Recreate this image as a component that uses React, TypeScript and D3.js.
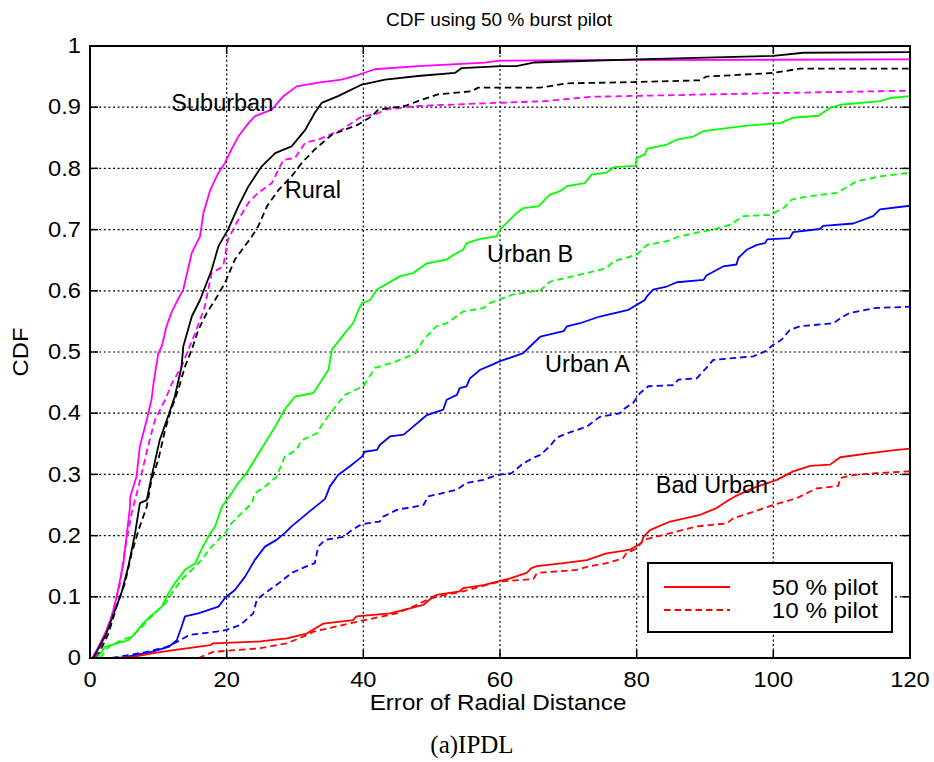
import React from "react";
import * as d3 from "d3";

type P = [number, number];

const xTicks = [0, 20, 40, 60, 80, 100, 120];
const yTicks = [0, 0.1, 0.2, 0.3, 0.4, 0.5, 0.6, 0.7, 0.8, 0.9, 1];
const yTickLabels = ["0", "0.1", "0.2", "0.3", "0.4", "0.5", "0.6", "0.7", "0.8", "0.9", "1"];

const suburban50: P[] = [[0.3,0],[1.0,0.013],[2.2,0.04],[3.2,0.068],[3.9,0.1],[4.9,0.155],[5.85,0.247],[5.9,0.264],[6.8,0.296],[7.3,0.346],[8.3,0.389],[9.0,0.422],[9.3,0.449],[10.0,0.498],[10.5,0.509],[11.2,0.542],[11.9,0.564],[12.6,0.58],[13.65,0.602],[14.9,0.662],[16.1,0.689],[16.6,0.727],[17.6,0.765],[18.8,0.793],[19.75,0.809],[20.7,0.831],[21.7,0.852],[23.2,0.874],[24.1,0.885],[26.6,0.896],[28.3,0.918],[30.25,0.934],[33.4,0.94],[36.8,0.945],[39.3,0.953],[41.7,0.962],[48.0,0.967],[57.8,0.973],[60,0.976],[70,0.977],[120,0.978]];
const suburban10: P[] = [[0.7,0],[2.2,0.035],[3.4,0.078],[4.4,0.122],[5.1,0.177],[6.1,0.237],[7.1,0.28],[7.8,0.313],[8.5,0.346],[9.5,0.389],[11.0,0.422],[12.0,0.449],[13.4,0.476],[14.4,0.504],[15.4,0.531],[16.8,0.574],[17.8,0.629],[19.5,0.64],[20.2,0.684],[21.7,0.716],[23.2,0.744],[24.6,0.76],[26.6,0.776],[28.3,0.814],[30,0.817],[31.5,0.842],[33.4,0.847],[36.8,0.863],[39.8,0.885],[41.7,0.888],[43.2,0.896],[48.0,0.902],[57,0.906],[66.8,0.91],[73.2,0.917],[100,0.923],[120,0.927]];
const rural50: P[] = [[0.5,0],[2.4,0.04],[3.66,0.078],[4.6,0.106],[5.6,0.149],[6.6,0.204],[7.3,0.253],[8.3,0.258],[9.0,0.296],[10.2,0.356],[11.5,0.397],[12.4,0.427],[13.4,0.476],[13.65,0.509],[14.9,0.558],[16.1,0.585],[17.8,0.634],[18.8,0.673],[20.2,0.7],[21.7,0.738],[23.2,0.771],[25.1,0.803],[27.1,0.825],[29.5,0.836],[31.5,0.863],[32.9,0.891],[33.9,0.907],[36.3,0.918],[39.8,0.937],[43.2,0.945],[48.0,0.951],[53.4,0.956],[54.4,0.964],[60.2,0.967],[62.4,0.967],[64.9,0.973],[80,0.978],[100,0.984],[104.4,0.989],[120,0.99]];
const rural10: P[] = [[1.0,0],[2.7,0.04],[3.9,0.084],[5.1,0.122],[6.1,0.171],[7.1,0.209],[8.3,0.247],[9.0,0.291],[10.0,0.324],[11.0,0.373],[11.7,0.4],[12.9,0.438],[13.9,0.476],[14.9,0.504],[15.85,0.536],[17.1,0.564],[18.3,0.585],[19.75,0.613],[21.2,0.651],[23.7,0.689],[24.6,0.705],[25.9,0.738],[27.6,0.765],[29.5,0.787],[31,0.809],[32.9,0.831],[35.4,0.855],[39.3,0.872],[41.2,0.885],[42.2,0.896],[46.1,0.902],[48,0.91],[50.9,0.921],[55.9,0.926],[56.8,0.932],[65.9,0.932],[69.8,0.939],[79.5,0.941],[89.3,0.944],[90.2,0.95],[100,0.956],[103.9,0.963],[120,0.963]];
const urbanB50: P[] = [[1.0,0],[2.2,0.018],[5.6,0.029],[6.6,0.04],[7.8,0.057],[9.0,0.07],[10.5,0.084],[11.5,0.106],[12.4,0.122],[13.9,0.144],[15.4,0.155],[16.3,0.177],[17.6,0.204],[18.3,0.215],[19.3,0.247],[20.7,0.269],[21.7,0.286],[22.9,0.302],[24.1,0.324],[25.6,0.351],[27.1,0.378],[28.5,0.406],[30,0.427],[32.7,0.433],[34.9,0.471],[35.4,0.504],[37.1,0.528],[38.5,0.547],[39.3,0.569],[39.8,0.58],[41,0.585],[42,0.602],[45.4,0.624],[47.3,0.629],[49.3,0.645],[52.2,0.651],[53.2,0.659],[54.6,0.667],[55.1,0.678],[57.1,0.685],[59.5,0.689],[60,0.7],[62.4,0.727],[63.4,0.735],[65.6,0.738],[67.3,0.757],[68.8,0.763],[69.8,0.771],[72.4,0.776],[73.4,0.79],[75.6,0.793],[76.6,0.802],[79.8,0.804],[80,0.817],[81.2,0.823],[81.5,0.832],[84.4,0.839],[85.9,0.847],[88.3,0.852],[89.8,0.861],[96.1,0.87],[101,0.874],[102.9,0.883],[106.6,0.886],[108.3,0.899],[109.8,0.904],[115.6,0.91],[117.1,0.915],[120,0.918]];
const urbanB10: P[] = [[1.5,0],[2.7,0.018],[4.6,0.029],[6.1,0.035],[7.6,0.051],[9.0,0.068],[11.0,0.089],[12.0,0.106],[13.4,0.128],[14.9,0.144],[16.3,0.16],[17.8,0.182],[19.75,0.204],[20.7,0.22],[22.2,0.237],[23.7,0.253],[24.1,0.269],[25.6,0.28],[27.3,0.296],[28.5,0.329],[30.2,0.34],[31,0.356],[33.2,0.367],[34.1,0.384],[35.6,0.406],[37.3,0.43],[40,0.444],[41.7,0.474],[44.9,0.485],[47.6,0.498],[48.8,0.52],[50.7,0.542],[52.2,0.547],[54.6,0.566],[57.6,0.572],[58.5,0.58],[61.9,0.594],[65.9,0.601],[67.3,0.615],[71.2,0.625],[75.6,0.637],[76.6,0.648],[80,0.659],[81.5,0.675],[84.4,0.681],[86.3,0.689],[88.8,0.695],[91.2,0.7],[93.7,0.708],[95.6,0.722],[99.5,0.724],[101.5,0.735],[102.7,0.749],[104.9,0.754],[109.3,0.76],[112.2,0.779],[115.6,0.787],[120,0.793]];
const urbanA50: P[] = [[4.6,0],[9.0,0.01],[11.5,0.018],[12.7,0.029],[13.4,0.051],[13.9,0.068],[15.85,0.073],[18.8,0.084],[19.75,0.098],[21.2,0.111],[22.7,0.133],[24.1,0.16],[25.6,0.182],[27.3,0.193],[28.5,0.204],[29.5,0.215],[32.4,0.242],[34.4,0.26],[35.1,0.28],[36.3,0.299],[38,0.313],[39.8,0.329],[40.2,0.337],[42,0.34],[42.4,0.348],[43.9,0.362],[45.9,0.365],[47.3,0.378],[49.3,0.397],[51.7,0.406],[52.2,0.422],[53.7,0.43],[54.1,0.441],[55.1,0.444],[55.6,0.457],[57.1,0.471],[58.8,0.479],[60,0.485],[63.4,0.498],[64.4,0.509],[65.9,0.525],[69.3,0.534],[69.8,0.542],[71.7,0.547],[74.6,0.558],[78.8,0.569],[80,0.577],[81.2,0.585],[81.5,0.591],[82.4,0.602],[84.4,0.607],[85.9,0.614],[89.8,0.618],[90.2,0.625],[91.7,0.634],[92.7,0.64],[94.6,0.643],[94.9,0.654],[96.1,0.667],[97.6,0.675],[98.8,0.678],[99.1,0.684],[102.4,0.686],[102.9,0.696],[106.8,0.701],[107.3,0.706],[111.7,0.71],[114.6,0.722],[115.6,0.733],[120,0.739]];
const urbanA10: P[] = [[3.2,0],[8.3,0.01],[11.2,0.018],[13.2,0.029],[14.6,0.038],[18.5,0.043],[20,0.046],[22,0.054],[23.9,0.073],[24.4,0.095],[25.6,0.106],[27.6,0.122],[29.5,0.139],[31.5,0.149],[32.9,0.155],[33.4,0.182],[34.4,0.193],[37.1,0.198],[38.3,0.209],[39.5,0.217],[40.5,0.22],[42.4,0.223],[42.9,0.231],[44.9,0.242],[48.8,0.25],[49.5,0.264],[53.7,0.275],[55.1,0.286],[57.6,0.291],[59.5,0.299],[61.7,0.302],[63.4,0.318],[64.9,0.327],[65.9,0.332],[67.3,0.346],[68.3,0.36],[69.8,0.367],[72.7,0.378],[74.6,0.394],[77.6,0.4],[78,0.406],[79.5,0.417],[80.5,0.433],[81.7,0.444],[85.4,0.446],[86.1,0.455],[88.8,0.457],[90.2,0.474],[91.2,0.487],[94.1,0.49],[97.1,0.493],[98.8,0.501],[100,0.512],[101.2,0.52],[102.4,0.536],[103.9,0.542],[108.8,0.547],[109.8,0.555],[111.2,0.564],[115.1,0.572],[120,0.574]];
const badUrban50: P[] = [[3.4,0],[6.3,0.002],[9.3,0.008],[11.7,0.012],[17.6,0.021],[18,0.024],[24.9,0.027],[28.8,0.032],[31.7,0.04],[34.1,0.056],[38.5,0.062],[39,0.068],[43.9,0.073],[46.8,0.081],[48.8,0.087],[50.2,0.1],[50.7,0.103],[54.1,0.109],[54.6,0.114],[57.6,0.119],[61.5,0.13],[63.9,0.139],[64.6,0.147],[65.4,0.15],[69.3,0.155],[72.7,0.16],[75.6,0.171],[78,0.175],[79,0.177],[80.7,0.188],[81,0.198],[81.95,0.209],[84.9,0.223],[89.3,0.234],[91.7,0.245],[93.2,0.256],[94.4,0.264],[97.1,0.278],[100.5,0.291],[102.9,0.305],[105.4,0.314],[108.3,0.316],[109.8,0.328],[113.7,0.334],[117.1,0.339],[120,0.342]];
const badUrban10: P[] = [[15.85,0],[17.6,0.008],[18,0.01],[24.9,0.016],[28.8,0.024],[31.2,0.035],[32.7,0.043],[35.1,0.049],[39,0.059],[44.9,0.073],[47.3,0.084],[49.3,0.095],[50.7,0.1],[54.6,0.109],[60,0.125],[64.9,0.129],[65.4,0.139],[71.2,0.144],[72.7,0.149],[75.6,0.155],[78,0.163],[78.5,0.171],[80,0.179],[81,0.193],[83.9,0.201],[88.8,0.215],[93.2,0.22],[94.1,0.228],[97.1,0.239],[100,0.25],[103.4,0.261],[105.4,0.272],[106.3,0.277],[109.5,0.281],[109.8,0.294],[111.7,0.299],[115.1,0.302],[120,0.305]];

const seriesList = [
  { data: suburban50, color: "#ff00ff", dashed: false },
  { data: suburban10, color: "#ff00ff", dashed: true },
  { data: rural50, color: "#000000", dashed: false },
  { data: rural10, color: "#000000", dashed: true },
  { data: urbanB50, color: "#00ff00", dashed: false },
  { data: urbanB10, color: "#00ff00", dashed: true },
  { data: urbanA50, color: "#0000ff", dashed: false },
  { data: urbanA10, color: "#0000ff", dashed: true },
  { data: badUrban50, color: "#ff0000", dashed: false },
  { data: badUrban10, color: "#ff0000", dashed: true },
];

const annotations = [
  { text: "Suburban", x: 11.9, y: 0.8945 },
  { text: "Rural", x: 28.5, y: 0.752 },
  { text: "Urban B", x: 58.1, y: 0.6475 },
  { text: "Urban A", x: 66.6, y: 0.467 },
  { text: "Bad Urban", x: 82.8, y: 0.2695 },
];

const legendItems = [
  { label: "50 % pilot", dashed: false },
  { label: "10 % pilot", dashed: true },
];

const FONT = "'Liberation Sans', Arial, Helvetica, sans-serif";

function T(props: { x: number; y: number; size: number; sx?: number; anchor?: string; baseline?: string; rotate?: number; family?: string; children: React.ReactNode }) {
  const { x, y, size, sx = 1, anchor = "start", baseline, rotate = 0, family = FONT, children } = props;
  return (
    <text transform={`translate(${x},${y}) rotate(${rotate}) scale(${sx},1)`} fontFamily={family} fontSize={size}
      textAnchor={anchor} dominantBaseline={baseline} fill="#000">{children}</text>
  );
}

export default function App() {
  const W = 934, H = 762;
  const left = 90, right = 910, top = 46, bottom = 658;
  const x = d3.scaleLinear().domain([0, 120]).range([left, right]);
  const y = d3.scaleLinear().domain([0, 1]).range([bottom, top]);
  const line = d3.line<P>().x((d) => x(d[0])).y((d) => y(d[1])).curve(d3.curveLinear);
  const tickLen = 8;

  return (
    <svg width={W} height={H} style={{ position: "absolute", left: 0, top: 0, display: "block", background: "#fff" }}>
      <rect x={0} y={0} width={W} height={H} fill="#fff" />
      <defs>
        <clipPath id="plotclip">
          <rect x={left} y={top - 2} width={right - left} height={bottom - top + 2} />
        </clipPath>
      </defs>
      <g stroke="#000" strokeWidth={1.2} strokeDasharray="2,2.6">
        {xTicks.slice(1, -1).map((t) => (
          <line key={"gx" + t} x1={x(t)} x2={x(t)} y1={top} y2={bottom} />
        ))}
        {yTicks.slice(1, -1).map((t) => (
          <line key={"gy" + t} x1={left} x2={right} y1={y(t)} y2={y(t)} />
        ))}
      </g>
      <g clipPath="url(#plotclip)" fill="none">
        {seriesList.map((s, i) => (
          <path key={i} d={line(s.data) || ""} stroke={s.color} strokeWidth={1.8}
            strokeDasharray={s.dashed ? "6.5,4" : undefined} strokeLinejoin="round" />
        ))}
      </g>
      <g stroke="#000" strokeWidth={1.5}>
        {xTicks.map((t) => (
          <g key={"tx" + t}>
            <line x1={x(t)} x2={x(t)} y1={bottom} y2={bottom - tickLen} />
            <line x1={x(t)} x2={x(t)} y1={top} y2={top + tickLen} />
          </g>
        ))}
        {yTicks.map((t) => (
          <g key={"ty" + t}>
            <line x1={left} x2={left + tickLen} y1={y(t)} y2={y(t)} />
            <line x1={right} x2={right - tickLen} y1={y(t)} y2={y(t)} />
          </g>
        ))}
      </g>
      <rect x={left} y={top} width={right - left} height={bottom - top} fill="none" stroke="#000" strokeWidth={2} />
      {xTicks.map((t) => (
        <T key={"lx" + t} x={x(t)} y={687} size={21.5} sx={1.1} anchor="middle">{t}</T>
      ))}
      {yTicks.map((t, i) => (
        <T key={"ly" + t} x={81} y={y(t)} size={21.5} sx={1.1} anchor="end" baseline="central">{yTickLabels[i]}</T>
      ))}
      <T x={499} y={26} size={19} anchor="middle">CDF using 50 % burst pilot</T>
      <T x={498} y={710} size={22} sx={1.1} anchor="middle">Error of Radial Distance</T>
      <T x={28} y={y(0.5)} size={22} sx={1.08} anchor="middle" rotate={-90}>CDF</T>
      <T x={472} y={753} size={25} anchor="middle" family="'Liberation Serif', 'Times New Roman', serif">(a)IPDL</T>
      {annotations.map((a) => (
        <T key={a.text} x={x(a.x)} y={y(a.y)} size={23.5}>{a.text}</T>
      ))}
      <g>
        <rect x={648} y={563} width={244} height={69} fill="#fff" stroke="#000" strokeWidth={2} />
        {legendItems.map((it, i) => (
          <g key={it.label}>
            <line x1={664} x2={730} y1={587 + i * 23} y2={587 + i * 23} stroke="#ff0000" strokeWidth={1.8}
              strokeDasharray={it.dashed ? "6.5,4" : undefined} />
            <T x={878} y={587 + i * 23} size={22} sx={1.1} anchor="end" baseline="central">{it.label}</T>
          </g>
        ))}
      </g>
    </svg>
  );
}
